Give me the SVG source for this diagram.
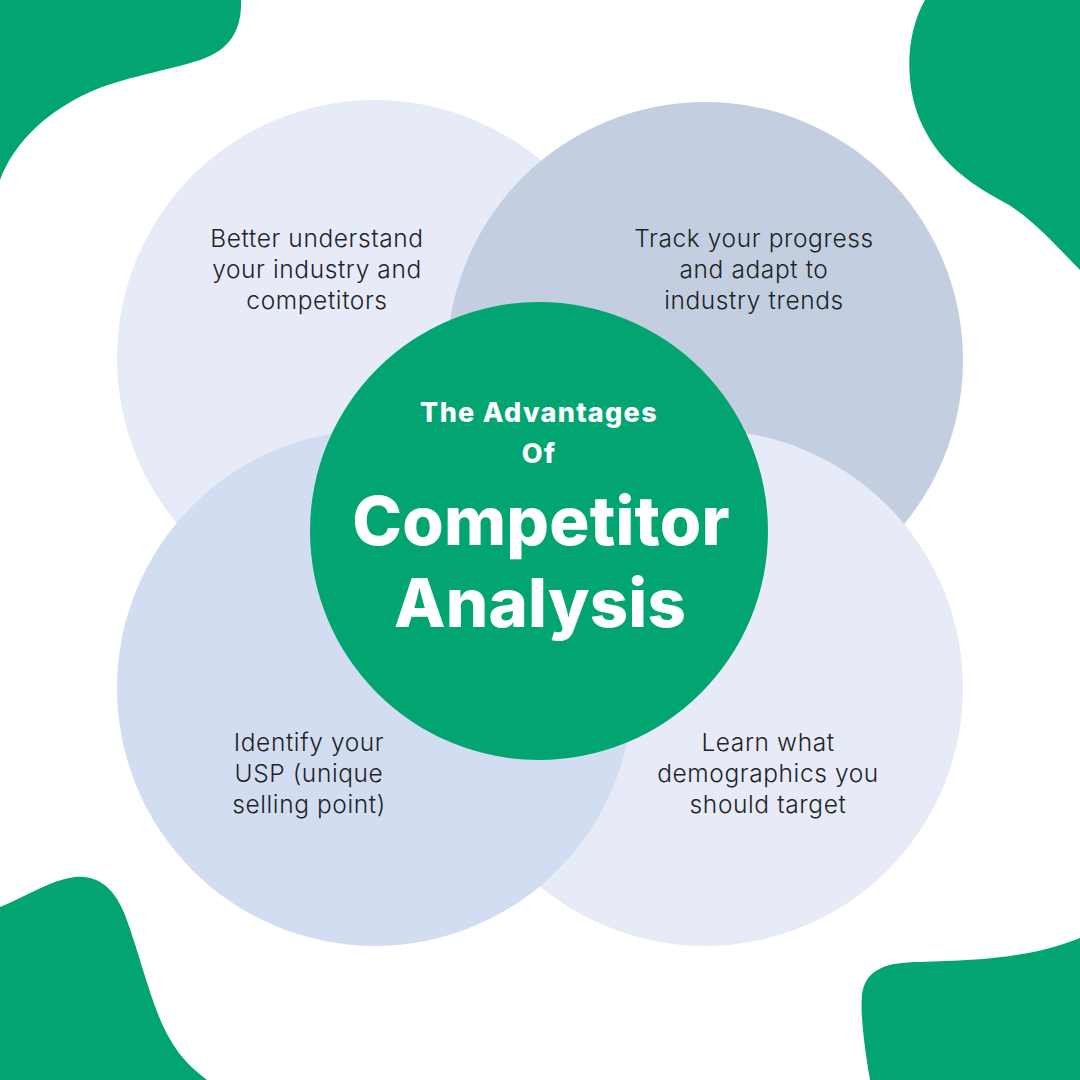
<svg xmlns="http://www.w3.org/2000/svg" width="1080" height="1080" viewBox="0 0 1080 1080">
<style>
.blob{fill:#02a572}
.body{font-family:Inter,"Lato","Liberation Sans",sans-serif;font-weight:300;font-size:24.5px;letter-spacing:0.6px;fill:#222428;text-anchor:middle}
.title{font-family:Inter,"Lato","Liberation Sans",sans-serif;font-weight:800;fill:#ffffff;text-anchor:middle}
.sub{font-size:27px;letter-spacing:1.3px}
.big{font-size:67px;letter-spacing:0.2px}
</style>
<rect width="1080" height="1080" fill="#ffffff"/>
<g id="blobs">
<path class="blob" d="M0,0 L241,0 C242,30 230,50 200,60 C170,70 120,78 90,92 C50,110 15,140 0,180 Z"/>
<path class="blob" d="M925,0 L1080,0 L1080,270 C1060,250 1030,215 1000,200 C960,178 935,155 920,120 C905,85 905,35 925,0 Z"/>
<path class="blob" d="M0,907 C25,897 50,880 75,877 C100,875 115,890 125,915 C140,955 150,1000 165,1030 C180,1060 195,1070 207,1080 L0,1080 Z"/>
<path class="blob" d="M870,1080 C865,1050 860,1015 862,995 C865,970 885,962 920,962 C980,960 1030,958 1080,938 L1080,1080 Z"/>
</g>
<g id="node-tl">
<circle cx="375" cy="358" r="258" fill="#e6ebf7"/>
</g>
<g id="node-tr">
<circle cx="705" cy="360" r="258" fill="#c4cee1"/>
</g>
<g id="node-br">
<circle cx="705" cy="688" r="258" fill="#e6ebf7"/>
</g>
<g id="node-bl">
<circle cx="375" cy="688" r="258" fill="#d3ddf1"/>
</g>
<g id="text-tl">
<text class="body" x="317" y="247">Better understand</text>
<text class="body" x="317" y="278">your industry and</text>
<text class="body" x="317" y="309">competitors</text>
</g>
<g id="text-tr">
<text class="body" x="754" y="247">Track your progress</text>
<text class="body" x="754" y="278">and adapt to</text>
<text class="body" x="754" y="309">industry trends</text>
</g>
<g id="text-bl">
<text class="body" x="309" y="751">Identify your</text>
<text class="body" x="309" y="782">USP (unique</text>
<text class="body" x="309" y="813">selling point)</text>
</g>
<g id="text-br">
<text class="body" x="768" y="751">Learn what</text>
<text class="body" x="768" y="782">demographics you</text>
<text class="body" x="768" y="813">should target</text>
</g>
<g id="node-center">
<circle cx="539" cy="531" r="229" fill="#02a572"/>
<text class="title sub" x="539" y="422">The Advantages</text>
<text class="title sub" x="539" y="463">Of</text>
<text class="title big" x="541" y="545">Competitor</text>
<text class="title big" x="540" y="627">Analysis</text>
</g>
<g id="connectors"></g>
</svg>
